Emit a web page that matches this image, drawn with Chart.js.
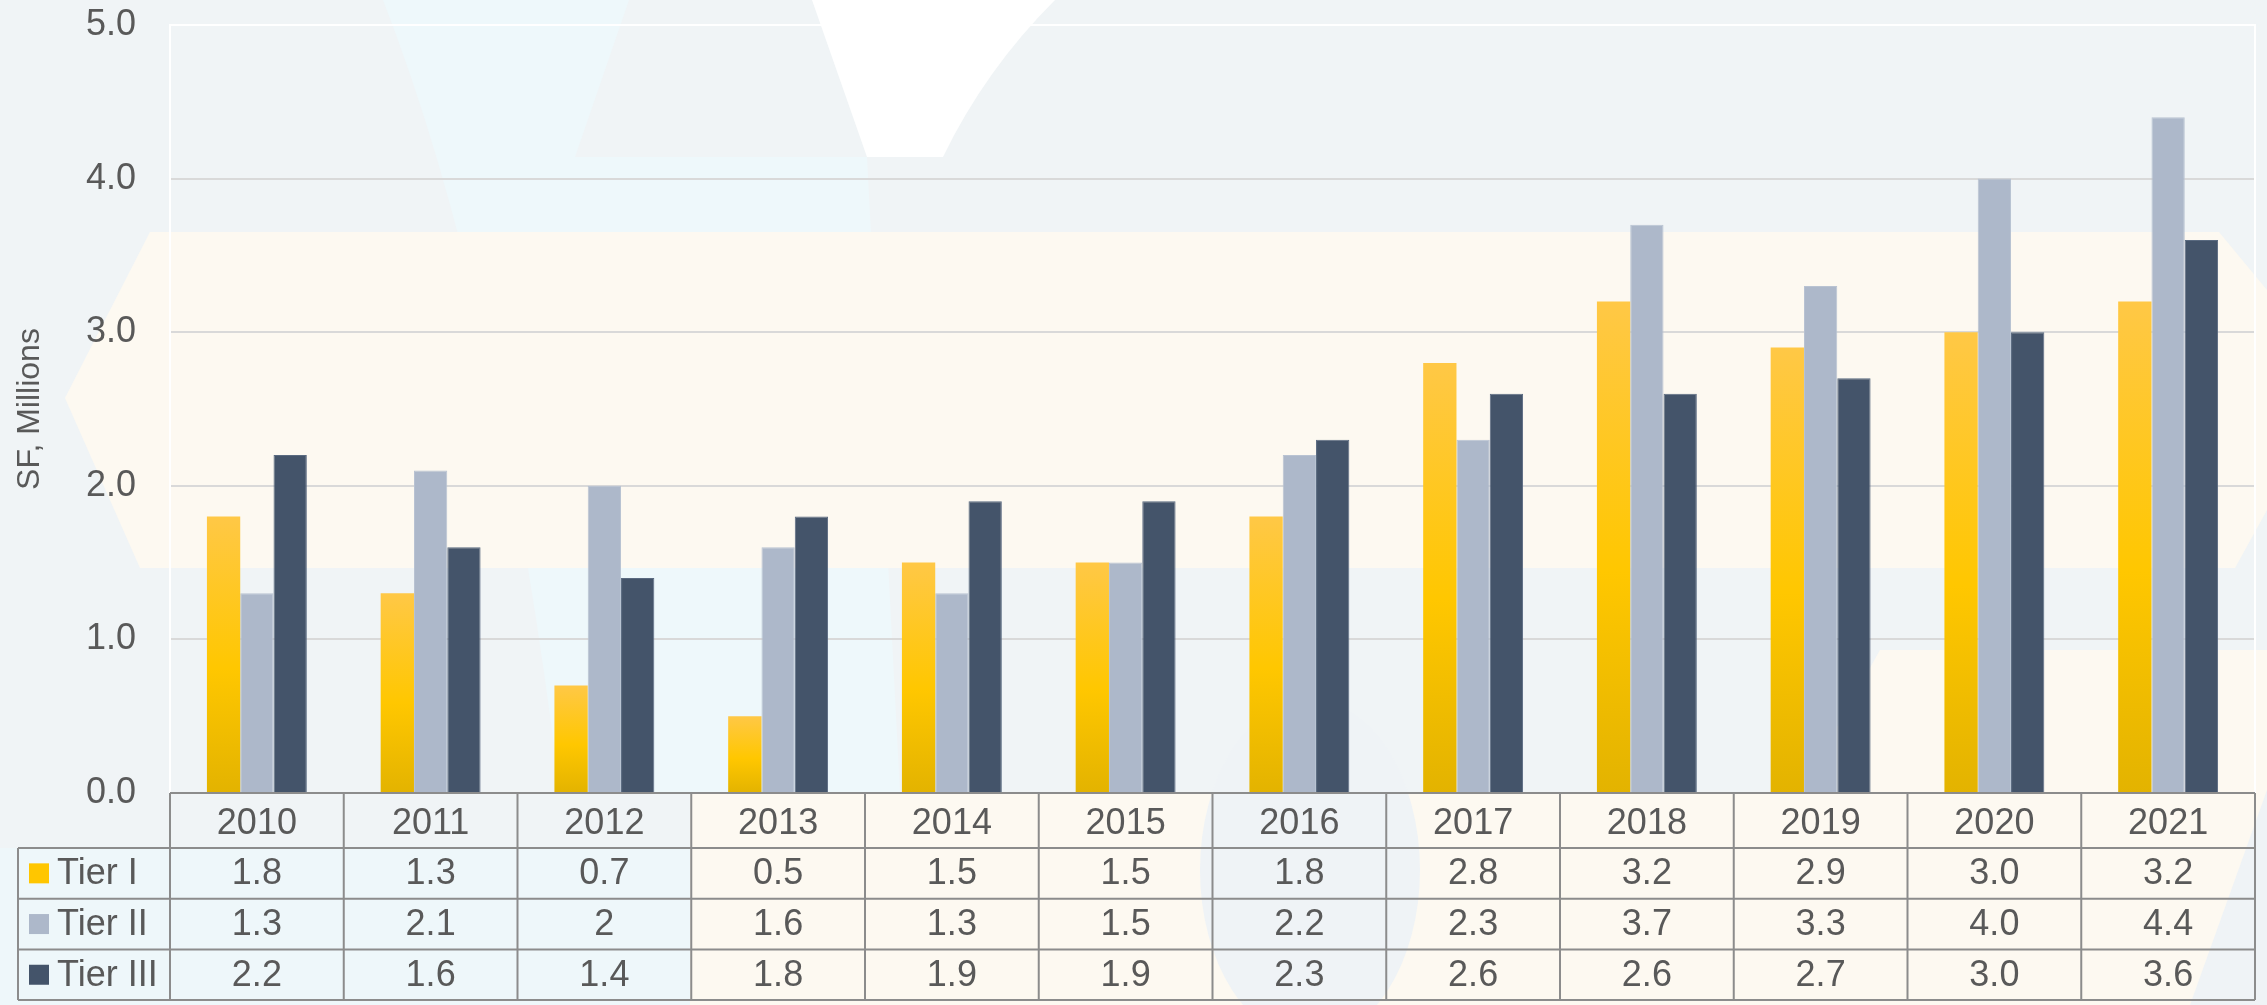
<!DOCTYPE html>
<html>
<head>
<meta charset="utf-8">
<title>SF, Millions by Tier</title>
<script src="https://cdn.jsdelivr.net/npm/chart.js@4.4.1/dist/chart.umd.min.js"></script>
<style>
  html, body { margin: 0; padding: 0; background: #f0f4f6; }
  #wrap { width: 2267px; height: 1005px; }
</style>
</head>
<body>
<div id="wrap"><canvas id="tierChart" width="2267" height="1005"></canvas></div>
<script>
// values as printed in the data table (strings keep "2" vs "3.0" as shown)
const years = ['2010', '2011', '2012', '2013', '2014', '2015', '2016', '2017', '2018', '2019', '2020', '2021'];
const tier1 = ['1.8', '1.3', '0.7', '0.5', '1.5', '1.5', '1.8', '2.8', '3.2', '2.9', '3.0', '3.2'];
const tier2 = ['1.3', '2.1', '2', '1.6', '1.3', '1.5', '2.2', '2.3', '3.7', '3.3', '4.0', '4.4'];
const tier3 = ['2.2', '1.6', '1.4', '1.8', '1.9', '1.9', '2.3', '2.6', '2.6', '2.7', '3.0', '3.6'];
const seriesNames = ['Tier I', 'Tier II', 'Tier III'];
const yTicks = [0, 1, 2, 3, 4, 5];

const textColor = '#595959';
const fontFamily = '"Liberation Sans", Arial, sans-serif';

// yellow bars get a per-bar vertical gradient like the original
function yellowFill(context) {
    const chart = context.chart;
    const y = chart.scales.y;
    if (!y || !context.parsed) return '#ffc600';
    const top = y.getPixelForValue(context.parsed.y);
    const base = y.getPixelForValue(0);
    if (!isFinite(top) || !isFinite(base) || base - top < 1) return '#ffc600';
    const g = chart.ctx.createLinearGradient(0, top, 0, base);
    g.addColorStop(0, '#ffc846');
    g.addColorStop(0.55, '#ffc700');
    g.addColorStop(1, '#e3b300');
    return g;
}

// faint watermark shapes behind the chart
const backdrop = {
    id: 'backdrop',
    beforeDraw(chart) {
        const ctx = chart.ctx;
        const w = chart.width, h = chart.height;
        ctx.save();
        ctx.fillStyle = '#f0f4f6';
        ctx.fillRect(0, 0, w, h);

        // pale cyan wedge
        ctx.fillStyle = '#eef8fb';
        ctx.beginPath();
        ctx.moveTo(383, 0);
        ctx.lineTo(629, 0);
        ctx.lineTo(575, 157);
        ctx.lineTo(867, 157);
        ctx.lineTo(900, 793);
        ctx.lineTo(560, 793);
        ctx.quadraticCurveTo(500, 300, 383, 0);
        ctx.fill();

        // white notch at the top
        ctx.fillStyle = '#ffffff';
        ctx.beginPath();
        ctx.moveTo(812, 0);
        ctx.lineTo(1055, 0);
        ctx.quadraticCurveTo(985, 70, 943, 157);
        ctx.lineTo(867, 157);
        ctx.closePath();
        ctx.fill();

        // cream band across the middle
        ctx.fillStyle = '#fdf9f1';
        ctx.beginPath();
        ctx.moveTo(150, 232);
        ctx.lineTo(2219, 232);
        ctx.lineTo(2267, 290);
        ctx.lineTo(2267, 510);
        ctx.lineTo(2235, 568);
        ctx.lineTo(140, 568);
        ctx.lineTo(65, 398);
        ctx.closePath();
        ctx.fill();

        // cream lower right
        ctx.beginPath();
        ctx.moveTo(1880, 650);
        ctx.lineTo(2267, 650);
        ctx.lineTo(2267, 1005);
        ctx.lineTo(690, 1005);
        ctx.lineTo(690, 793);
        ctx.lineTo(1800, 793);
        ctx.closePath();
        ctx.fill();

        // bluish arc over the table
        ctx.fillStyle = '#eff3f6';
        ctx.beginPath();
        ctx.ellipse(1310, 870, 110, 170, 0, 0, Math.PI * 2);
        ctx.fill();
        ctx.beginPath();
        ctx.moveTo(2190, 1005);
        ctx.lineTo(2267, 790);
        ctx.lineTo(2267, 1005);
        ctx.closePath();
        ctx.fill();

        // cyan under the left part of the table
        ctx.fillStyle = '#eef7fa';
        ctx.fillRect(0, 848, 690, 157);
        ctx.restore();
    },
    beforeDatasetsDraw(chart) {
        const ctx = chart.ctx;
        const a = chart.chartArea;
        ctx.save();
        ctx.strokeStyle = '#ffffff';
        ctx.lineWidth = 2;
        ctx.beginPath();
        ctx.moveTo(a.left, a.bottom);
        ctx.lineTo(a.left, a.top);
        ctx.lineTo(a.right, a.top);
        ctx.lineTo(a.right, a.bottom);
        ctx.stroke();
        ctx.restore();
    }
};

// data table under the plot, columns taken from the x scale
const dataTable = {
    id: 'dataTable',
    afterDraw(chart) {
        const ctx = chart.ctx;
        const x = chart.scales.x;
        const a = chart.chartArea;
        const rows = [tier1, tier2, tier3];
        const swatches = ['#ffc600', '#adb8ca', '#44546a'];
        const colW = x.getPixelForValue(1) - x.getPixelForValue(0);
        const headTop = a.bottom;
        const headBottom = x.bottom;
        const rowH = 50.7;
        const tableLeft = 18;
        const tableBottom = headBottom + rowH * rows.length;

        ctx.save();
        ctx.strokeStyle = '#8c8c8c';
        ctx.lineWidth = 2;
        ctx.beginPath();
        ctx.moveTo(a.left, headTop);
        ctx.lineTo(a.right, headTop);
        for (let r = 0; r <= rows.length; r++) {
            const yy = headBottom + r * rowH;
            ctx.moveTo(tableLeft, yy);
            ctx.lineTo(a.right, yy);
        }
        for (let i = 0; i <= years.length; i++) {
            const xx = x.getPixelForValue(0) - colW / 2 + i * colW;
            ctx.moveTo(xx, headTop);
            ctx.lineTo(xx, tableBottom);
        }
        ctx.moveTo(tableLeft, headBottom);
        ctx.lineTo(tableLeft, tableBottom);
        ctx.stroke();

        ctx.font = '36px ' + fontFamily;
        ctx.fillStyle = textColor;
        ctx.textBaseline = 'middle';
        rows.forEach((vals, r) => {
            const cy = headBottom + rowH * (r + 0.5);
            ctx.fillStyle = swatches[r];
            ctx.fillRect(29, cy - 10, 20, 20);
            ctx.fillStyle = textColor;
            ctx.textAlign = 'left';
            ctx.fillText(seriesNames[r], 57, cy + 1);
            ctx.textAlign = 'center';
            vals.forEach((v, i) => {
                ctx.fillText(v, x.getPixelForValue(i), cy + 1);
            });
        });
        ctx.restore();
    }
};

const ctx = document.getElementById('tierChart').getContext('2d');
new Chart(ctx, {
    type: 'bar',
    data: {
        labels: years,
        datasets: [
            { label: seriesNames[0], data: tier1, backgroundColor: yellowFill, borderWidth: 0 },
            { label: seriesNames[1], data: tier2, backgroundColor: '#adb8ca', borderColor: '#b9c3d2', borderWidth: 1 },
            { label: seriesNames[2], data: tier3, backgroundColor: '#44546a', borderColor: '#5a6a80', borderWidth: 1 }
        ]
    },
    options: {
        responsive: false,
        animation: false,
        devicePixelRatio: 1,
        layout: { padding: { top: 25, right: 12, bottom: 157, left: 0 } },
        datasets: { bar: { categoryPercentage: 0.575, barPercentage: 1 } },
        plugins: {
            legend: { display: false },
            tooltip: { enabled: false }
        },
        scales: {
            x: {
                grid: { display: false, drawTicks: false },
                border: { display: false },
                ticks: {
                    color: textColor,
                    font: { family: fontFamily, size: 36 },
                    padding: 9,
                    maxRotation: 0
                },
                afterFit(scale) { scale.height = 55; }
            },
            y: {
                min: 0,
                max: 5,
                afterBuildTicks(scale) { scale.ticks = yTicks.map(v => ({ value: v })); },
                grid: {
                    drawTicks: false,
                    lineWidth: 2,
                    color: c => (c.tick && c.tick.value === 5) ? '#ffffff' : (c.tick && c.tick.value === 0 ? 'rgba(0,0,0,0)' : '#d9d9d9')
                },
                border: { display: false },
                ticks: {
                    color: textColor,
                    font: { family: fontFamily, size: 36 },
                    padding: 34,
                    callback: v => Number(v).toFixed(1)
                },
                title: {
                    display: true,
                    text: 'SF, Millions',
                    color: textColor,
                    font: { family: fontFamily, size: 32, lineHeight: 1 },
                    padding: { top: 14, bottom: 0 }
                },
                afterFit(scale) {
                    scale.width = 170;
                    scale.paddingTop = 0;
                    scale.paddingBottom = 0;
                }
            }
        }
    },
    plugins: [backdrop, dataTable]
});
</script>
</body>
</html>
